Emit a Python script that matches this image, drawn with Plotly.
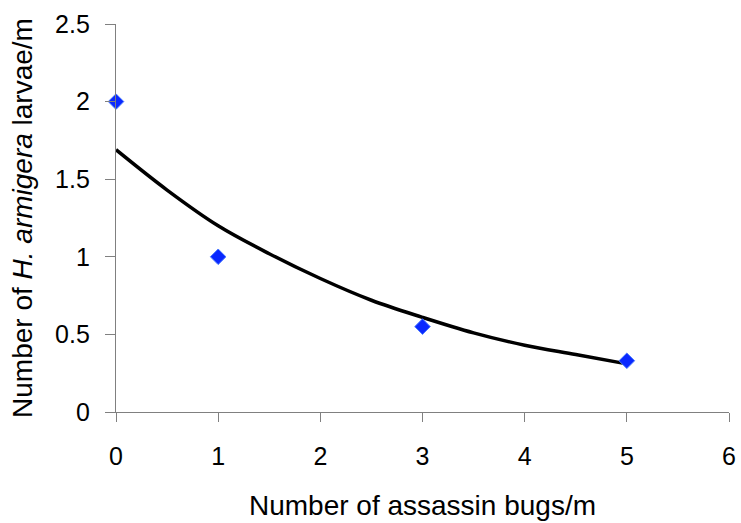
import plotly.graph_objects as go

# Observed data points
bugs = [0, 1, 3, 5]
larvae = [2.0, 1.0, 0.55, 0.33]

# Trend curve values
trend_x = [0, 0.5, 1, 1.5, 2, 2.5, 3, 3.5, 4, 4.5, 5]
trend_y = [1.69, 1.43, 1.20, 1.02, 0.86, 0.72, 0.61, 0.51, 0.43, 0.37, 0.31]

x_ticks = [0, 1, 2, 3, 4, 5, 6]
y_ticks = [0, 0.5, 1, 1.5, 2, 2.5]
y_tick_text = ["0", "0.5", "1", "1.5", "2", "2.5"]

font_family = "Liberation Sans, Arial, sans-serif"

fig = go.Figure()
fig.add_trace(go.Scatter(
    x=trend_x, y=trend_y, mode="lines",
    line=dict(color="black", width=3.5, shape="spline"),
    showlegend=False, hoverinfo="skip",
))
fig.add_trace(go.Scatter(
    x=bugs, y=larvae, mode="markers",
    marker=dict(symbol="diamond", size=12, color="#0a28ff",
                line=dict(color="#4a7aff", width=1)),
    showlegend=False, cliponaxis=False,
))

fig.update_layout(
    width=741, height=523,
    margin=dict(l=116, r=12, t=24, b=111),
    paper_bgcolor="white", plot_bgcolor="white",
    font=dict(family=font_family, color="black", size=25),
    xaxis=dict(
        range=[0, 6], tickvals=x_ticks, showgrid=False, zeroline=False,
        automargin=False,
        showline=True, linecolor="#808080", linewidth=1.3,
        ticks="outside", ticklen=9, tickcolor="#808080", tickwidth=1.3,
        tickfont=dict(size=25), ticklabelstandoff=13, ticklabeloverflow="allow",
        title=dict(text="Number of assassin bugs/m", font=dict(size=28), standoff=26),
    ),
    yaxis=dict(
        range=[0, 2.5], tickvals=y_ticks, ticktext=y_tick_text,
        showgrid=False, zeroline=False, automargin=False,
        showline=True, linecolor="#808080", linewidth=1.3,
        ticks="outside", ticklen=10, tickcolor="#808080", tickwidth=1.3,
        tickfont=dict(size=25), ticklabelstandoff=10,
        title=dict(text="Number of <i>H. armigera</i> larvae/m", font=dict(size=28), standoff=14),
    ),
)

fig.write_html("out.html")
